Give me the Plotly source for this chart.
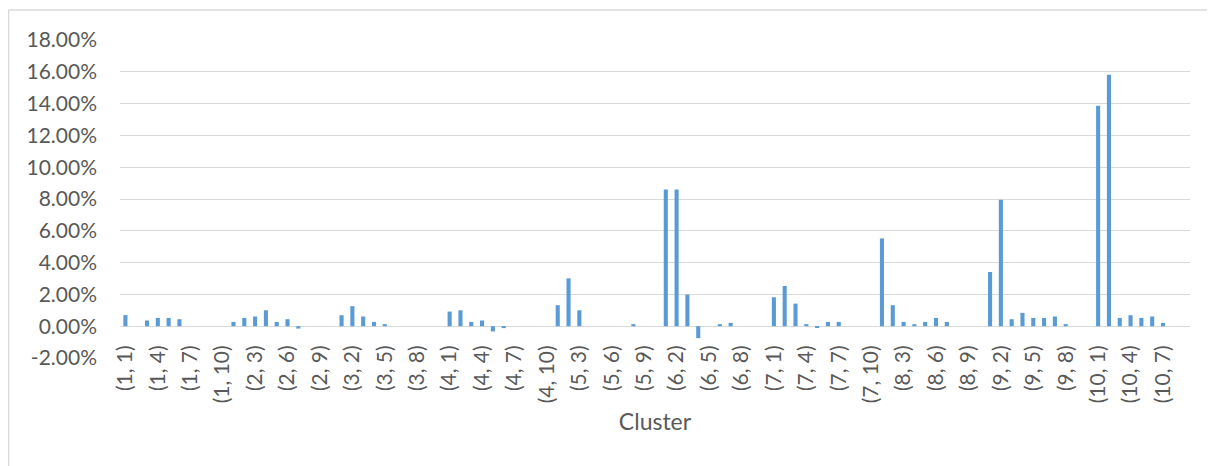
import plotly.graph_objects as go

# Values (%) per first index of the cluster pair, second index 1..10
cluster_1 = [0.70, 0.00, 0.36, 0.52, 0.52, 0.44, 0.00, 0.00, 0.00, 0.00]
cluster_2 = [0.27, 0.52, 0.61, 1.00, 0.27, 0.44, -0.15, 0.00, 0.00, 0.00]
cluster_3 = [0.69, 1.26, 0.61, 0.27, 0.13, 0.00, 0.00, 0.00, 0.00, 0.00]
cluster_4 = [0.92, 1.00, 0.27, 0.36, -0.33, -0.12, 0.00, 0.00, 0.00, 0.00]
cluster_5 = [1.32, 3.01, 1.00, 0.00, 0.00, 0.00, 0.00, 0.13, 0.00, 0.00]
cluster_6 = [8.60, 8.60, 1.99, -0.75, 0.00, 0.13, 0.21, 0.00, 0.00, 0.00]
cluster_7 = [1.82, 2.53, 1.42, 0.13, -0.10, 0.27, 0.27, 0.00, 0.00, 0.00]
cluster_8 = [5.52, 1.32, 0.27, 0.13, 0.27, 0.52, 0.27, 0.00, 0.00, 0.00]
cluster_9 = [3.41, 7.95, 0.44, 0.84, 0.52, 0.52, 0.61, 0.13, 0.00, 0.00]
cluster_10 = [13.86, 15.81, 0.52, 0.69, 0.52, 0.61, 0.21, 0.00, 0.00]

groups = [cluster_1, cluster_2, cluster_3, cluster_4, cluster_5,
          cluster_6, cluster_7, cluster_8, cluster_9, cluster_10]

y_tick_values = [-0.02, 0.0, 0.02, 0.04, 0.06, 0.08, 0.10, 0.12, 0.14, 0.16, 0.18]
y_tick_labels = ["-2.00%", "0.00%", "2.00%", "4.00%", "6.00%", "8.00%",
                 "10.00%", "12.00%", "14.00%", "16.00%", "18.00%"]

categories = []
values = []
for i, g in enumerate(groups, start=1):
    for j, v in enumerate(g, start=1):
        categories.append(f"({i}, {j})")
        values.append(v / 100.0)

x_tick_labels = categories[::3]

TEXT = "#595959"
GRID = "#D9D9D9"
FONT = "Lato"

fig = go.Figure(go.Bar(x=categories, y=values,
                       marker=dict(color="#5B9BD5", line=dict(width=0))))

# page body has an 8px margin, so the figure is offset by 8px
fig.update_layout(
    width=1207, height=458,
    margin=dict(l=112, r=25, t=32, b=108),
    paper_bgcolor="white", plot_bgcolor="white",
    bargap=0.62,
    showlegend=False,
    font=dict(family=FONT, color=TEXT, size=21),
    shapes=[
        dict(type="line", xref="paper", yref="paper", x0=-0.1042, x1=1.03, y0=1.0943, y1=1.0943,
             line=dict(color=GRID, width=1.5)),
        dict(type="line", xref="paper", yref="paper", x0=-0.1042, x1=-0.1042, y0=1.0943, y1=-0.4,
             line=dict(color=GRID, width=1.5)),
    ],
)

fig.update_yaxes(
    range=[-0.02, 0.18], tickmode="array",
    tickvals=y_tick_values, ticktext=y_tick_labels,
    showgrid=True, gridcolor=GRID, gridwidth=1.3,
    zeroline=True, zerolinecolor=GRID, zerolinewidth=1.3,
    showline=False, ticks="", ticklabelstandoff=22,
    tickfont=dict(family=FONT, size=21, color=TEXT),
)

fig.update_xaxes(
    type="category", anchor="free", position=0.1,
    tickmode="array", tickvals=x_tick_labels, ticktext=x_tick_labels,
    tickangle=-90, ticks="", showgrid=False, showline=False, zeroline=False,
    ticklabelstandoff=14,
    tickfont=dict(family=FONT, size=21, color=TEXT),
    title=dict(text="Cluster", font=dict(family=FONT, size=23, color=TEXT), standoff=11),
)

fig.write_html("out.html")
